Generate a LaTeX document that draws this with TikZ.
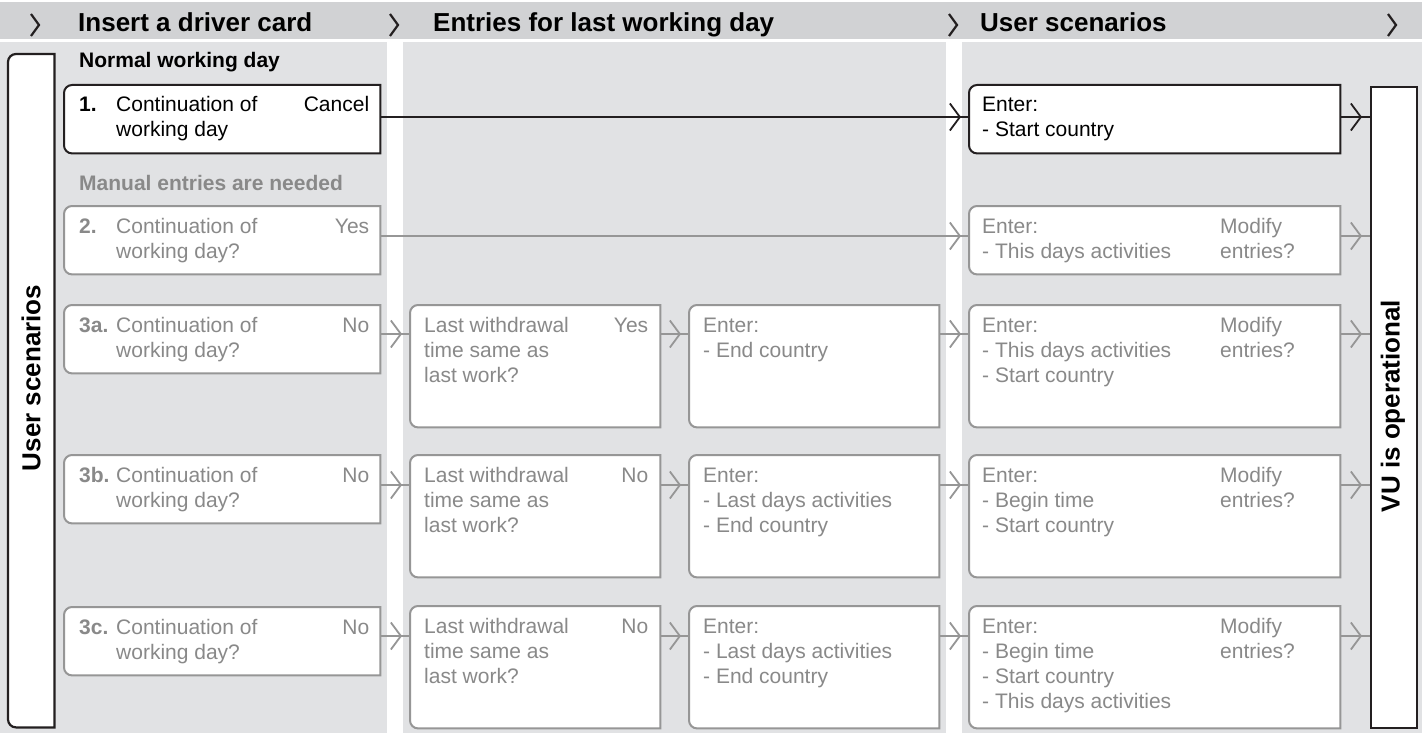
\documentclass[tikz,border=0pt]{standalone}
\usepackage{fontspec}
\setmainfont{Liberation Sans}
\usetikzlibrary{arrows.meta,decorations.markings}

\definecolor{headgray}{RGB}{209,210,212}
\definecolor{lanegray}{RGB}{225,226,228}
\definecolor{inkgray}{RGB}{137,137,137}
\definecolor{linegray}{RGB}{150,150,150}
\definecolor{inkblack}{RGB}{35,31,32}

% outline of a box, rounded on the left side only
\newcommand{\cardframe}[2][]{%
  \filldraw[cardline, #1] (#2.north east) -- ([xshift=8pt]#2.north west)
    arc[start angle=90, end angle=180, radius=8pt]
    -- ([yshift=8pt]#2.south west)
    arc[start angle=180, end angle=270, radius=8pt]
    -- (#2.south east) -- cycle;}
% lines of a box text, baseline on the first line
\newcommand{\rows}[1]{\begin{tabular}[t]{@{}l@{}}#1\end{tabular}}

\begin{document}
\begin{tikzpicture}[x=1pt, y=-1pt,
  chev/.style={line width=2.2pt, inkblack, line join=miter},
  headtext/.style={font=\bfseries\fontsize{26}{30}\selectfont, anchor=base west, inner sep=0pt},
  sidetext/.style={font=\bfseries\fontsize{26}{30}\selectfont, rotate=90, inner sep=0pt},
  grouptext/.style={font=\bfseries\fontsize{21}{25}\selectfont, anchor=base west, inner sep=0pt},
  txt/.style={font=\fontsize{21}{25}\selectfont, anchor=base west, inner sep=0pt},
  num/.style={txt, font=\bfseries\fontsize{21}{25}\selectfont},
  ans/.style={txt, anchor=base east},
  cardline/.style={fill=white, draw=linegray, line width=2pt},
  startbox/.style={inner sep=0pt, anchor=north west, minimum width=316pt, minimum height=68pt},
  lastbox/.style={inner sep=0pt, anchor=north west, minimum width=250pt, minimum height=122pt},
  enterbox/.style={inner sep=0pt, anchor=north west, minimum width=371pt, minimum height=#1},
  enterbox/.default=68pt,
  flow/.style={line width=1.8pt, color=#1, postaction={decorate},
    decoration={markings, mark=at position -8pt with {\arrow{Straight Barb[length=10pt, width=27pt]}}}}
]
\fill[white] (0,0) rectangle (1422,733);
\useasboundingbox (0,0) rectangle (1422,733);

% Header and lanes
\fill[headgray] (0,2) rectangle (1422,39);
\fill[lanegray] (0,42) rectangle (387,733);
\fill[lanegray] (403,42) rectangle (946,733);
\fill[lanegray] (962,42) rectangle (1422,733);
\foreach \x in {31,390,949,1388}
  \draw[chev] (\x,14) -- (\x+8,25) -- (\x,36);
\node[headtext] (h1) at (78,32) {Insert a driver card};
\node[headtext] (h2) at (433,32) {Entries for last working day};
\node[headtext] (h3) at (980,32) {User scenarios};

% Side boxes
\node[inner sep=0pt, anchor=north west, minimum width=46pt, minimum height=673pt] (us) at (8,54) {};
\cardframe[draw=inkblack, line width=2.2pt]{us}
\node[sidetext] (uslabel) at (31,378) {User scenarios};
\node[draw=inkblack, fill=white, line width=2.2pt, inner sep=0pt, anchor=north west,
  minimum width=46pt, minimum height=641pt] (vu) at (1370,86) {};
\node[sidetext] (vulabel) at (1393,406) {VU is operational};

% Row levels for the connectors
\coordinate (r1) at (0,117);
\coordinate (r2) at (0,236);
\coordinate (r3a) at (0,334);
\coordinate (r3b) at (0,485);
\coordinate (r3c) at (0,636);

% Normal working day
\node[grouptext] (g1) at (79,68) {Normal working day};
\node[startbox] (s1) at (64,85) {};
\cardframe[draw=inkblack]{s1}
\node[num] (s1n) at ([shift={(15,27)}]s1.north west) {1.};
\node[txt] (s1t) at ([shift={(52,27)}]s1.north west) {\rows{Continuation of\\working day}};
\node[ans] (s1a) at ([shift={(-11,27)}]s1.north east) {Cancel};
\node[enterbox] (e1) at (969,85) {};
\cardframe[draw=inkblack]{e1}
\node[txt] (e1t) at ([shift={(13,27)}]e1.north west) {\rows{Enter:\\- Start country}};
\draw[flow=inkblack] (s1.east |- r1) -- (e1.west |- r1);
\draw[flow=inkblack] (e1.east |- r1) -- (vu.west |- r1);

% Manual entries
\begin{scope}[txt/.append style={text=inkgray}]
\node[grouptext, text=inkgray] (g2) at (79,190) {Manual entries are needed};

% 2.
\node[startbox] (s2) at (64,206) {};
\cardframe{s2}
\node[num] (s2n) at ([shift={(15,27)}]s2.north west) {2.};
\node[txt] (s2t) at ([shift={(52,27)}]s2.north west) {\rows{Continuation of\\working day?}};
\node[ans] (s2a) at ([shift={(-11,27)}]s2.north east) {Yes};
\node[enterbox] (e2) at (969,206) {};
\cardframe{e2}
\node[txt] (e2t) at ([shift={(13,27)}]e2.north west) {\rows{Enter:\\- This days activities}};
\node[txt] (e2m) at ([shift={(251,27)}]e2.north west) {\rows{Modify\\entries?}};
\draw[flow=linegray] (s2.east |- r2) -- (e2.west |- r2);
\draw[flow=linegray] (e2.east |- r2) -- (vu.west |- r2);

% 3a.
\node[startbox] (s3a) at (64,305) {};
\cardframe{s3a}
\node[num] (s3an) at ([shift={(15,27)}]s3a.north west) {3a.};
\node[txt] (s3at) at ([shift={(52,27)}]s3a.north west) {\rows{Continuation of\\working day?}};
\node[ans] (s3aa) at ([shift={(-11,27)}]s3a.north east) {No};
\node[lastbox] (l3a) at (410,305) {};
\cardframe{l3a}
\node[txt] (l3at) at ([shift={(14,27)}]l3a.north west) {\rows{Last withdrawal\\time same as\\last work?}};
\node[ans] (l3aa) at ([shift={(-12,27)}]l3a.north east) {Yes};
\node[lastbox] (n3a) at (689,305) {};
\cardframe{n3a}
\node[txt] (n3at) at ([shift={(14,27)}]n3a.north west) {\rows{Enter:\\- End country}};
\node[enterbox=122pt] (e3a) at (969,305) {};
\cardframe{e3a}
\node[txt] (e3at) at ([shift={(13,27)}]e3a.north west) {\rows{Enter:\\- This days activities\\- Start country}};
\node[txt] (e3am) at ([shift={(251,27)}]e3a.north west) {\rows{Modify\\entries?}};
\draw[flow=linegray] (s3a.east |- r3a) -- (l3a.west |- r3a);
\draw[flow=linegray] (l3a.east |- r3a) -- (n3a.west |- r3a);
\draw[flow=linegray] (n3a.east |- r3a) -- (e3a.west |- r3a);
\draw[flow=linegray] (e3a.east |- r3a) -- (vu.west |- r3a);

% 3b.
\node[startbox] (s3b) at (64,455) {};
\cardframe{s3b}
\node[num] (s3bn) at ([shift={(15,27)}]s3b.north west) {3b.};
\node[txt] (s3bt) at ([shift={(52,27)}]s3b.north west) {\rows{Continuation of\\working day?}};
\node[ans] (s3ba) at ([shift={(-11,27)}]s3b.north east) {No};
\node[lastbox] (l3b) at (410,455) {};
\cardframe{l3b}
\node[txt] (l3bt) at ([shift={(14,27)}]l3b.north west) {\rows{Last withdrawal\\time same as\\last work?}};
\node[ans] (l3ba) at ([shift={(-12,27)}]l3b.north east) {No};
\node[lastbox] (n3b) at (689,455) {};
\cardframe{n3b}
\node[txt] (n3bt) at ([shift={(14,27)}]n3b.north west) {\rows{Enter:\\- Last days activities\\- End country}};
\node[enterbox=122pt] (e3b) at (969,455) {};
\cardframe{e3b}
\node[txt] (e3bt) at ([shift={(13,27)}]e3b.north west) {\rows{Enter:\\- Begin time\\- Start country}};
\node[txt] (e3bm) at ([shift={(251,27)}]e3b.north west) {\rows{Modify\\entries?}};
\draw[flow=linegray] (s3b.east |- r3b) -- (l3b.west |- r3b);
\draw[flow=linegray] (l3b.east |- r3b) -- (n3b.west |- r3b);
\draw[flow=linegray] (n3b.east |- r3b) -- (e3b.west |- r3b);
\draw[flow=linegray] (e3b.east |- r3b) -- (vu.west |- r3b);

% 3c.
\node[startbox] (s3c) at (64,607) {};
\cardframe{s3c}
\node[num] (s3cn) at ([shift={(15,27)}]s3c.north west) {3c.};
\node[txt] (s3ct) at ([shift={(52,27)}]s3c.north west) {\rows{Continuation of\\working day?}};
\node[ans] (s3ca) at ([shift={(-11,27)}]s3c.north east) {No};
\node[lastbox] (l3c) at (410,606) {};
\cardframe{l3c}
\node[txt] (l3ct) at ([shift={(14,27)}]l3c.north west) {\rows{Last withdrawal\\time same as\\last work?}};
\node[ans] (l3ca) at ([shift={(-12,27)}]l3c.north east) {No};
\node[lastbox] (n3c) at (689,606) {};
\cardframe{n3c}
\node[txt] (n3ct) at ([shift={(14,27)}]n3c.north west) {\rows{Enter:\\- Last days activities\\- End country}};
\node[enterbox=122pt] (e3c) at (969,606) {};
\cardframe{e3c}
\node[txt] (e3ct) at ([shift={(13,27)}]e3c.north west) {\rows{Enter:\\- Begin time\\- Start country\\- This days activities}};
\node[txt] (e3cm) at ([shift={(251,27)}]e3c.north west) {\rows{Modify\\entries?}};
\draw[flow=linegray] (s3c.east |- r3c) -- (l3c.west |- r3c);
\draw[flow=linegray] (l3c.east |- r3c) -- (n3c.west |- r3c);
\draw[flow=linegray] (n3c.east |- r3c) -- (e3c.west |- r3c);
\draw[flow=linegray] (e3c.east |- r3c) -- (vu.west |- r3c);
\end{scope}

\end{tikzpicture}
\end{document}
